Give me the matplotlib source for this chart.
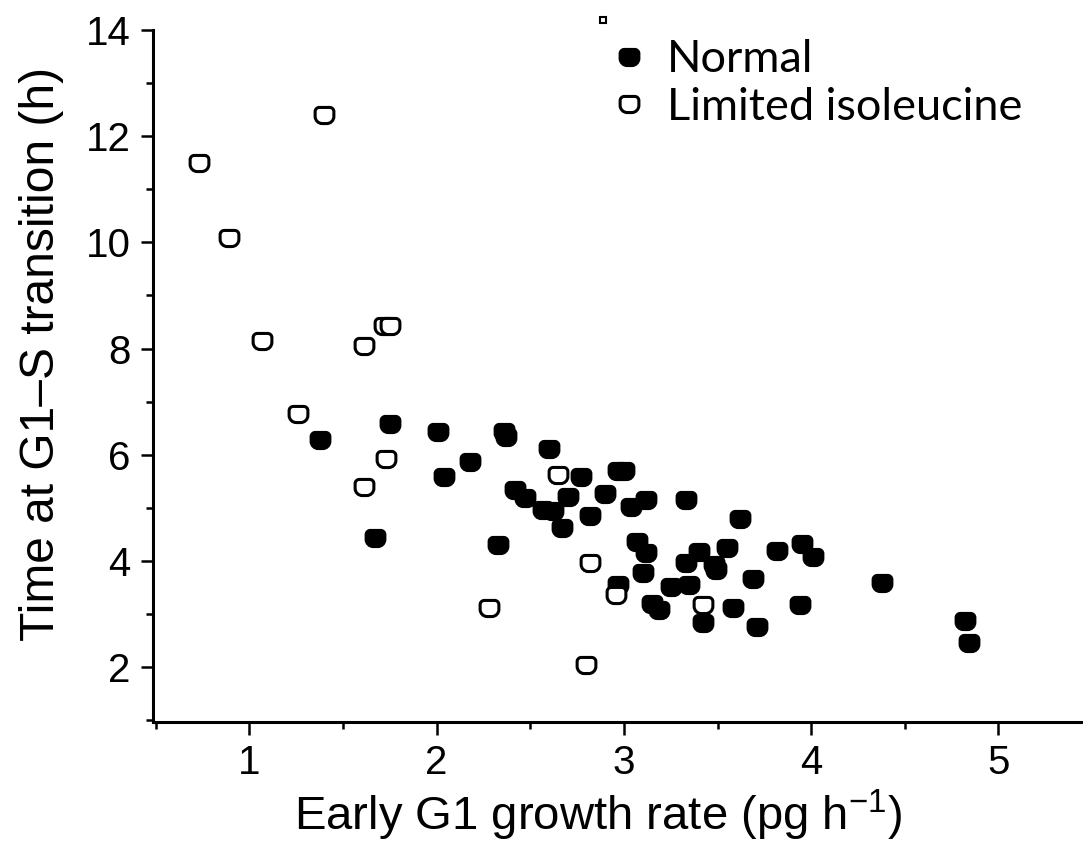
import matplotlib
matplotlib.use("Agg")
import matplotlib.pyplot as plt
from matplotlib.ticker import MultipleLocator
from matplotlib.lines import Line2D
from matplotlib.markers import MarkerStyle
from matplotlib.path import Path

# Normal growth condition
normal_x = [1.38, 1.75, 2.01, 2.36, 2.37, 2.18, 2.04, 2.60, 1.67, 2.33,
            2.77, 2.97, 3.00, 2.42, 2.47, 2.57, 2.62, 2.70, 2.67, 2.90,
            2.82, 3.04, 3.12, 3.07, 3.12, 3.10, 2.97, 3.33, 3.62, 3.33,
            3.40, 3.48, 3.49, 3.55, 3.25, 3.35, 3.15, 3.19, 3.42, 3.58,
            3.69, 3.71, 3.82, 3.95, 4.01, 3.94, 4.38, 4.82, 4.84]
normal_y = [6.28, 6.58, 6.42, 6.42, 6.33, 5.87, 5.57, 6.11, 4.43, 4.30,
            5.57, 5.70, 5.70, 5.34, 5.19, 4.96, 4.93, 5.21, 4.62, 5.26,
            4.85, 5.02, 5.15, 4.36, 4.15, 3.77, 3.55, 5.15, 4.79, 3.96,
            4.17, 3.92, 3.83, 4.25, 3.51, 3.55, 3.18, 3.07, 2.83, 3.11,
            3.66, 2.75, 4.19, 4.32, 4.08, 3.17, 3.58, 2.87, 2.45]

# Limited isoleucine
limited_x = [0.73, 0.89, 1.40, 1.07, 1.26, 1.61, 1.72, 1.75, 1.61, 1.73,
             2.28, 2.65, 2.82, 2.96, 3.42, 2.80]
limited_y = [11.50, 10.08, 12.40, 8.15, 6.77, 8.04, 8.43, 8.43, 5.40, 5.92,
             3.11, 5.62, 3.96, 3.36, 3.17, 2.04]


def rounded_box(w=1.0, h=0.86, rt=0.22, rb=0.38):
    # rounded rectangle marker, flatter on top, rounder at the bottom
    c = 0.5523
    x0, x1, y0, y1 = -w / 2, w / 2, -h / 2, h / 2
    verts = [(x0 + rb, y0), (x1 - rb, y0),
             (x1 - rb + c * rb, y0), (x1, y0 + rb - c * rb), (x1, y0 + rb),
             (x1, y1 - rt),
             (x1, y1 - rt + c * rt), (x1 - rt + c * rt, y1), (x1 - rt, y1),
             (x0 + rt, y1),
             (x0 + rt - c * rt, y1), (x0, y1 - rt + c * rt), (x0, y1 - rt),
             (x0, y0 + rb),
             (x0, y0 + rb - c * rb), (x0 + rb - c * rb, y0), (x0 + rb, y0),
             (x0 + rb, y0)]
    codes = ([Path.MOVETO, Path.LINETO] + [Path.CURVE4] * 3 + [Path.LINETO]
             + [Path.CURVE4] * 3 + [Path.LINETO] + [Path.CURVE4] * 3
             + [Path.LINETO] + [Path.CURVE4] * 3 + [Path.CLOSEPOLY])
    return Path(verts, codes)


fig = plt.figure(figsize=(10.83, 8.44), dpi=100)
ax = fig.add_axes([0.14127, 0.14455, 0.8587, 0.8199])

mk = dict(marker=MarkerStyle(rounded_box()), linestyle='none',
          markeredgecolor='black', markeredgewidth=2.2, markersize=13.5)
ax.plot(normal_x, normal_y, markerfacecolor='black', **mk)
ax.plot(limited_x, limited_y, markerfacecolor='white', **mk)

ax.set_xlim(0.486, 5.451)
ax.set_ylim(0.964, 14)

for s in ['top', 'right']:
    ax.spines[s].set_visible(False)
for s in ['left', 'bottom']:
    ax.spines[s].set_linewidth(2.2)

ax.xaxis.set_major_locator(MultipleLocator(1))
ax.xaxis.set_minor_locator(MultipleLocator(0.5))
ax.yaxis.set_major_locator(MultipleLocator(2))
ax.yaxis.set_minor_locator(MultipleLocator(1))
ax.tick_params(which='major', direction='out', length=9, width=1.8,
               labelsize=29, pad=7)
ax.tick_params(which='minor', direction='out', length=5, width=1.8)
for lab in ax.get_xticklabels() + ax.get_yticklabels():
    lab.set_family('Liberation Sans')

ax.set_xlabel('Early G1 growth rate (pg h$^{\\mathregular{-1}}$)',
              fontsize=34, family='Liberation Sans')
ax.set_ylabel('Time at G1\u2013S transition (h)',
              fontsize=34.5, family='Liberation Sans')
ax.xaxis.set_label_coords(0.479, -0.095)
ax.yaxis.set_label_coords(-0.096, 0.532)

handles = [Line2D([], [], markerfacecolor='black', **mk),
           Line2D([], [], markerfacecolor='white', **mk)]
leg = ax.legend(handles, ['Normal', 'Limited isoleucine'],
                loc='upper right', bbox_to_anchor=(0.969, 1.032),
                frameon=False, handlelength=0.8, handletextpad=0.45,
                labelspacing=0.15, borderpad=0.2,
                prop={'family': 'Lato', 'size': 32.5})

# small stray marker above the legend
fig.add_artist(Line2D([0.5567], [0.976], transform=fig.transFigure,
                      marker='s', markersize=5, markerfacecolor='white',
                      markeredgecolor='black', markeredgewidth=1.5,
                      linestyle='none'))

fig.savefig('out.png', dpi=100)
